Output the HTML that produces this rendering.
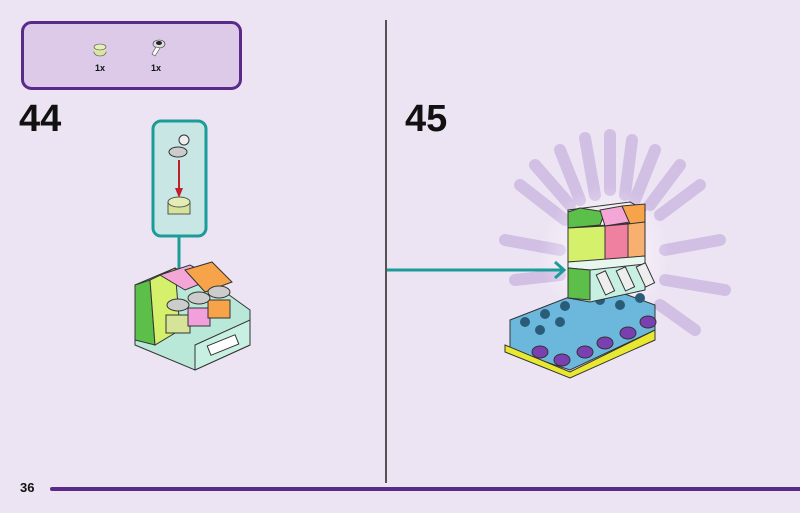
<!DOCTYPE html><html><head><style>
body{margin:0;width:800px;height:513px;background:#ede4f3;overflow:hidden;font-family:"Liberation Sans",sans-serif;position:relative}
.t{position:absolute;font-weight:bold;color:#111}
</style></head><body>
<svg width="800" height="513" style="position:absolute;left:0;top:0">
<defs><radialGradient id="g"><stop offset="0" stop-color="#fff" stop-opacity=".9"/><stop offset="1" stop-color="#fff" stop-opacity="0"/></radialGradient></defs>
<rect x="22.5" y="22.5" width="218" height="66" rx="9" fill="#dccae8" stroke="#5a2a8a" stroke-width="3"/>
<ellipse cx="100" cy="52" rx="6" ry="4" fill="#d8e6a0" stroke="#444" stroke-width=".6"/>
<rect x="94" y="47" width="12" height="5" fill="#d8e6a0"/><ellipse cx="100" cy="47" rx="6" ry="3" fill="#e6efb8" stroke="#444" stroke-width=".6"/>
<ellipse cx="159" cy="44" rx="6" ry="4" fill="#ddd" stroke="#333" stroke-width=".6"/><ellipse cx="159" cy="43" rx="3" ry="2" fill="#222"/>
<path d="M156 47 L152 54 L155 56 L160 48Z" fill="#fff" stroke="#444" stroke-width=".6"/>
<line x1="386" y1="20" x2="386" y2="483" stroke="#222" stroke-width="1.5"/>
<line x1="52" y1="489" x2="800" y2="489" stroke="#5a2a8a" stroke-width="4" stroke-linecap="round"/>
<rect x="153" y="121" width="53" height="115" rx="8" fill="#c8e6e4" stroke="#1c9c98" stroke-width="3"/>
<line x1="179" y1="236" x2="179" y2="292" stroke="#1c9c98" stroke-width="3"/>
<path d="M171 284 L179 293 L187 284" fill="none" stroke="#1c9c98" stroke-width="3"/>
<ellipse cx="178" cy="152" rx="9" ry="5" fill="#ccc" stroke="#333"/><circle cx="184" cy="140" r="5" fill="#eee" stroke="#333"/>
<line x1="179" y1="160" x2="179" y2="190" stroke="#c0202a" stroke-width="2"/><path d="M175 188 L179 198 L183 188Z" fill="#c0202a"/>
<rect x="168" y="202" width="22" height="12" fill="#d6e49a" stroke="#555"/><ellipse cx="179" cy="202" rx="11" ry="5" fill="#e4eeb4" stroke="#555"/>
<path d="M135 285 L175 268 L225 292 L250 310 L250 345 L195 370 L135 345Z" fill="#b9e8d8" stroke="#333"/>
<path d="M135 285 L150 280 L155 345 L135 340Z" fill="#5cbf4a" stroke="#333"/>
<path d="M150 280 L175 268 L180 330 L155 345Z" fill="#d5f06a" stroke="#333"/>
<path d="M160 275 L190 265 L215 278 L185 290Z" fill="#f4a6d6" stroke="#333"/>
<path d="M185 270 L212 262 L232 282 L205 292Z" fill="#f7a34a" stroke="#333"/>
<path d="M195 345 L250 320 L250 345 L195 370Z" fill="#c8f0e2" stroke="#333"/>
<rect x="208" y="340" width="30" height="10" fill="#fff" stroke="#333" transform="rotate(-22 223 345)"/>
<g stroke="#333"><rect x="166" y="315" width="24" height="18" fill="#d6e49a"/><rect x="188" y="308" width="22" height="18" fill="#f2a0dc"/><rect x="208" y="300" width="22" height="18" fill="#f7a34a"/>
<ellipse cx="178" cy="305" rx="11" ry="6" fill="#ccc"/><ellipse cx="199" cy="298" rx="11" ry="6" fill="#ccc"/><ellipse cx="219" cy="292" rx="11" ry="6" fill="#ccc"/></g>
<g stroke="#d2bfe4" stroke-width="12" stroke-linecap="round">
<line x1="610" y1="135" x2="610" y2="190"/><line x1="655" y1="150" x2="635" y2="200"/><line x1="700" y1="185" x2="660" y2="215"/><line x1="720" y1="240" x2="665" y2="250"/><line x1="725" y1="290" x2="665" y2="280"/><line x1="695" y1="330" x2="660" y2="305"/><line x1="560" y1="150" x2="580" y2="200"/><line x1="520" y1="185" x2="565" y2="220"/><line x1="505" y1="240" x2="560" y2="250"/><line x1="632" y1="140" x2="625" y2="195"/><line x1="585" y1="138" x2="595" y2="195"/><line x1="680" y1="165" x2="650" y2="205"/><line x1="535" y1="165" x2="570" y2="205"/><line x1="515" y1="280" x2="560" y2="275"/>
</g>
<ellipse cx="605" cy="255" rx="65" ry="70" fill="url(#g)"/>
<line x1="387" y1="270" x2="563" y2="270" stroke="#1c9c98" stroke-width="3"/>
<path d="M555 262 L564 270 L555 278" fill="none" stroke="#1c9c98" stroke-width="3"/>
<path d="M510 320 L600 285 L655 305 L655 330 L570 370 L510 350Z" fill="#6cb8dc" stroke="#333"/>
<path d="M505 345 L570 372 L655 330 L655 340 L570 378 L505 352Z" fill="#e8e830" stroke="#333"/>
<g fill="#7a3fb0" stroke="#333"><ellipse cx="540" cy="352" rx="8" ry="6"/><ellipse cx="562" cy="360" rx="8" ry="6"/><ellipse cx="585" cy="352" rx="8" ry="6"/><ellipse cx="605" cy="343" rx="8" ry="6"/><ellipse cx="628" cy="333" rx="8" ry="6"/><ellipse cx="648" cy="322" rx="8" ry="6"/></g>
<g fill="#2a5c7a"><circle cx="525" cy="322" r="5"/><circle cx="545" cy="314" r="5"/><circle cx="565" cy="306" r="5"/><circle cx="540" cy="330" r="5"/><circle cx="560" cy="322" r="5"/><circle cx="600" cy="300" r="5"/><circle cx="620" cy="305" r="5"/><circle cx="640" cy="298" r="5"/></g>
<path d="M568 228 L645 222 L645 290 L590 302 L568 298Z" fill="#c8f0e2" stroke="#333"/>
<path d="M568 210 L630 202 L645 210 L600 218 L568 215Z" fill="#eee" stroke="#333"/>
<path d="M568 212 L580 208 L605 212 L600 225 L568 228Z" fill="#5cbf4a" stroke="#333"/>
<path d="M600 210 L622 206 L630 222 L605 226Z" fill="#f4a6d6" stroke="#333"/>
<path d="M622 206 L645 204 L645 222 L630 224Z" fill="#f7a34a" stroke="#333"/>
<path d="M568 228 L605 226 L605 260 L568 262Z" fill="#d5f06a" stroke="#333"/>
<path d="M605 226 L628 224 L628 258 L605 260Z" fill="#f080a0" stroke="#333"/>
<path d="M628 224 L645 222 L645 256 L628 258Z" fill="#f7b070" stroke="#333"/>
<path d="M568 262 L645 256 L645 264 L590 270 L568 268Z" fill="#e8f6f0" stroke="#333"/>
<path d="M568 268 L590 270 L590 300 L568 298Z" fill="#5cbf4a" stroke="#333"/>
<g fill="#eee" stroke="#333"><rect x="600" y="272" width="10" height="22" transform="rotate(-25 605 282)"/><rect x="620" y="268" width="10" height="22" transform="rotate(-25 625 278)"/><rect x="640" y="264" width="10" height="22" transform="rotate(-25 645 274)"/></g>
</svg>
<div class="t" style="left:95px;top:63px;font-size:9px">1x</div>
<div class="t" style="left:151px;top:63px;font-size:9px">1x</div>
<div class="t" style="left:19px;top:98px;font-size:38px">44</div>
<div class="t" style="left:405px;top:98px;font-size:38px">45</div>
<div class="t" style="left:20px;top:480px;font-size:13px">36</div>
</body></html>
